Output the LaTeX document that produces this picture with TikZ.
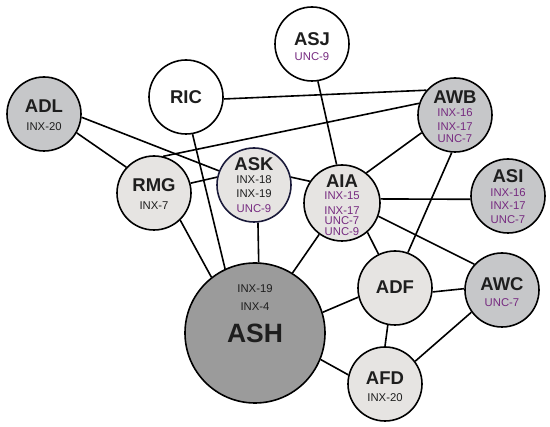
\documentclass[tikz,border=0pt]{standalone}
\usepackage{fontspec}
\setmainfont{Liberation Sans}
\usetikzlibrary{backgrounds}
\definecolor{dgray}{RGB}{198,199,201}
\definecolor{lgray}{RGB}{230,228,226}
\definecolor{hgray}{RGB}{155,155,155}
\definecolor{navy}{RGB}{26,26,58}
\definecolor{purp}{RGB}{118,42,128}
\definecolor{ink}{RGB}{30,30,30}
\tikzset{
  nd/.style={circle,draw=black,line width=1.6pt,inner sep=0pt,minimum size=74pt},
  wnd/.style={nd,fill=white},
  lnd/.style={nd,fill=lgray},
  gnd/.style={nd,fill=dgray},
  ttl/.style={inner sep=0pt,text=ink,font=\fontsize{18.5}{18.5}\selectfont\bfseries},
  sub/.style={inner sep=0pt,text=ink,font=\fontsize{11.3}{11.3}\selectfont},
  psub/.style={sub,text=purp},
  edge/.style={line width=1.6pt,black}
}
\begin{document}
\begin{tikzpicture}[x=1pt,y=-1pt]
\useasboundingbox (0,0) rectangle (550,427);
% circles
\node[gnd] (ADL) at (44,114) {};
\node[wnd] (RIC) at (186,97) {};
\node[lnd] (RMG) at (154,193) {};
\node[lnd,draw=navy] (ASK) at (254,185) {};
\node[wnd] (ASJ) at (312,44) {};
\node[gnd] (AWB) at (455,115) {};
\node[lnd,minimum size=76pt] (AIA) at (342,203) {};
\node[gnd] (ASI) at (508,196) {};
\node[nd,fill=hgray,minimum size=140pt] (ASH) at (255,333) {};
\node[lnd] (ADF) at (395,288) {};
\node[gnd] (AWC) at (502,290) {};
\node[lnd] (AFD) at (385,384) {};
% texts
\node[ttl] (ADLt) at (44,106) {ADL};
\node[sub] (ADL1) at (44,126.5) {INX-20};
\node[ttl] (RICt) at (186,97) {RIC};
\node[ttl] (RMGt) at (154,185) {RMG};
\node[sub] (RMG1) at (154,206) {INX-7};
\node[ttl] (ASKt) at (254,164) {ASK};
\node[sub] (ASK1) at (254,179.5) {INX-18};
\node[sub] (ASK2) at (254,193.5) {INX-19};
\node[psub] (ASK3) at (254,209) {UNC-9};
\node[ttl] (ASJt) at (312,39) {ASJ};
\node[psub] (ASJ1) at (312,57) {UNC-9};
\node[ttl] (AWBt) at (455,97.5) {AWB};
\node[psub] (AWB1) at (455,113) {INX-16};
\node[psub] (AWB2) at (455,126.5) {INX-17};
\node[psub] (AWB3) at (455,139) {UNC-7};
\node[ttl] (AIAt) at (342,181.5) {AIA};
\node[psub] (AIA1) at (342,196) {INX-15};
\node[psub] (AIA2) at (342,210.5) {INX-17};
\node[psub] (AIA3) at (342,221) {UNC-7};
\node[psub] (AIA4) at (342,232) {UNC-9};
\node[ttl] (ASIt) at (508,176) {ASI};
\node[psub] (ASI1) at (508,193) {INX-16};
\node[psub] (ASI2) at (508,206) {INX-17};
\node[psub] (ASI3) at (508,220) {UNC-7};
\node[sub] (ASH1) at (255,289) {INX-19};
\node[sub] (ASH2) at (255,307) {INX-4};
\node[ttl,font=\fontsize{26.5}{26.5}\selectfont\bfseries] (ASHt) at (255,333.5) {ASH};
\node[ttl] (ADFt) at (395,287) {ADF};
\node[ttl] (AWCt) at (502,284) {AWC};
\node[psub] (AWC1) at (502,303) {UNC-7};
\node[ttl] (AFDt) at (385,378.5) {AFD};
\node[sub] (AFD1) at (385,398) {INX-20};
% connectors
\begin{pgfonlayer}{background}
\draw[edge] (ADL.-30) -- (RMG.137);
\draw[edge] (ADL.-5) -- (ASK.158);
\draw[edge] (RIC.-3) -- (AWB.139);
\draw[edge] (RMG.76) -- (AWB.162);
\draw[edge] (RMG.15) -- (ASK.168);
\draw[edge] (RIC.-80) -- (ASH.115);
\draw[edge] (RMG.-46) -- (ASH.128);
\draw[edge] (ASK.-84) -- (ASH.87);
\draw[edge] (ASK.12) -- (AIA.146);
\draw[edge] (ASJ.-81) -- (AIA.98);
\draw[edge] (AIA.51) -- (AWB.208);
\draw[edge] (AWB.-95) -- (ADF.70);
\draw[edge] (AIA.6) -- (ASI.185);
\draw[edge] (AIA.-20) -- (AWC.137);
\draw[edge] (AIA.-49) -- (ADF.116);
\draw[edge] (AIA.234) -- (ASH.58);
\draw[edge] (ADF.194) -- (ASH.17);
\draw[edge] (ADF.-6) -- (AWC.178);
\draw[edge] (ADF.-101) -- (AFD.90);
\draw[edge] (AFD.37) -- (AWC.216);
\draw[edge] (AFD.166) -- (ASH.-22);
\end{pgfonlayer}
\end{tikzpicture}
\end{document}
